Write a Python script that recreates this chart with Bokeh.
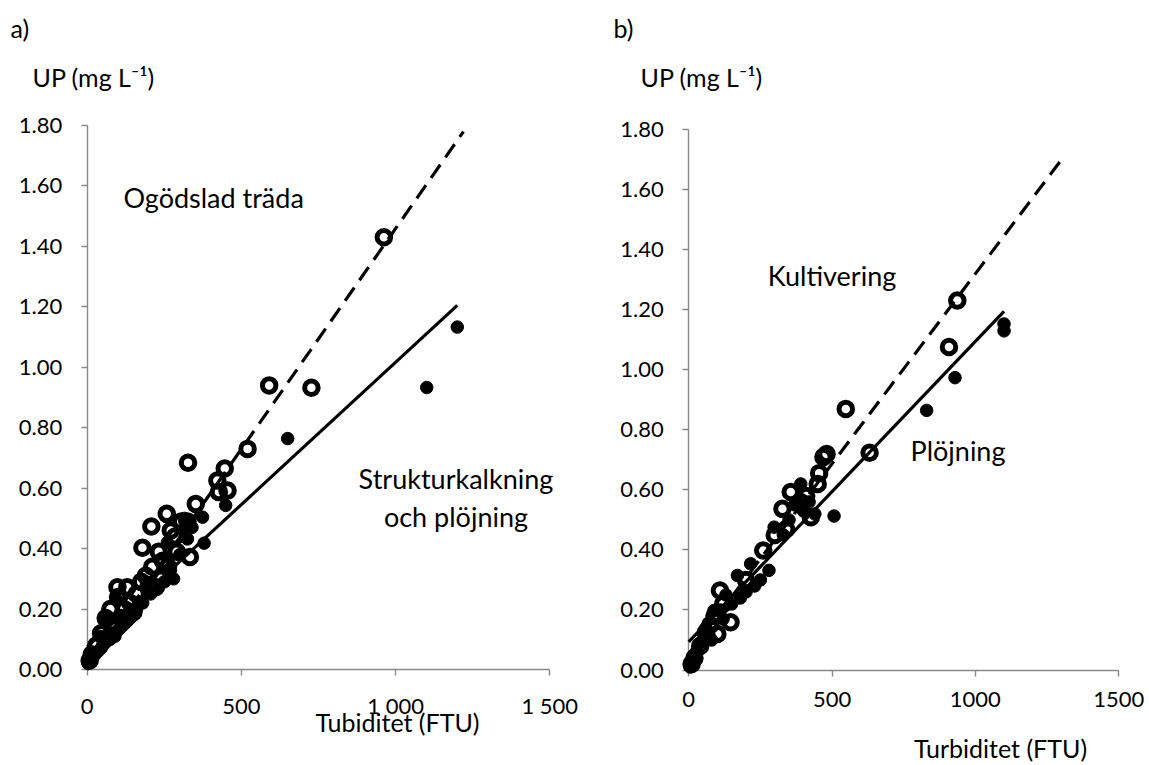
from bokeh.plotting import figure
from bokeh.models import Range1d, FixedTicker, NumeralTickFormatter, Label, LinearAxis
from bokeh.embed import file_html
from bokeh.resources import INLINE

# ---------------- data ----------------
# Panel a) - open circles: Ogödslad träda (dashed trend), filled: Strukturkalkning och plöjning (solid trend)
a_open_x = [962, 590, 727, 520, 327, 446, 422, 455, 427, 352, 258, 208, 271, 305, 325, 179, 333, 232,
            290, 211, 262, 98, 130, 222, 175, 160, 100, 75, 120, 60, 90, 45, 30, 15, 140, 190, 245, 200,
            110, 150, 8, 285, 240]
a_open_y = [1.43, 0.94, 0.932, 0.73, 0.684, 0.665, 0.625, 0.592, 0.587, 0.548, 0.515, 0.473, 0.46, 0.49,
            0.49, 0.403, 0.372, 0.39, 0.39, 0.34, 0.34, 0.272, 0.272, 0.272, 0.29, 0.25, 0.24, 0.20, 0.20,
            0.17, 0.15, 0.12, 0.08, 0.05, 0.22, 0.31, 0.36, 0.28, 0.17, 0.19, 0.03, 0.44, 0.30]
a_fill_x = [1200, 1101, 650, 379, 449, 374, 325, 310, 340, 280, 250, 206, 230, 180, 160, 140, 120, 100,
            90, 75, 60, 58, 45, 35, 25, 15, 8, 3, 110, 80, 65, 50, 40, 20, 130, 95, 150, 270, 300, 315, 260]
a_fill_y = [1.133, 0.933, 0.764, 0.418, 0.543, 0.504, 0.432, 0.46, 0.47, 0.30, 0.29, 0.25, 0.27, 0.22,
            0.20, 0.17, 0.15, 0.13, 0.11, 0.10, 0.09, 0.173, 0.07, 0.06, 0.05, 0.04, 0.03, 0.02, 0.14,
            0.12, 0.10, 0.08, 0.11, 0.05, 0.16, 0.23, 0.18, 0.33, 0.38, 0.50, 0.42]
a_solid_x = [0, 1200]
a_solid_y = [0.075, 1.205]
a_dash_x = [0, 1220]
a_dash_y = [0.0, 1.78]

# Panel b) - open circles: Kultivering (dashed trend), filled: Plöjning (solid trend)
b_open_x = [937, 908, 548, 631, 481, 470, 455, 450, 356, 327, 426, 390, 410, 260, 109, 146, 120, 90,
            60, 40, 20, 200, 300, 340, 100, 75, 10]
b_open_y = [1.231, 1.076, 0.87, 0.724, 0.72, 0.71, 0.656, 0.62, 0.593, 0.537, 0.509, 0.56, 0.58, 0.398,
            0.265, 0.159, 0.22, 0.18, 0.12, 0.08, 0.04, 0.30, 0.45, 0.47, 0.12, 0.15, 0.02]
b_fill_x = [1100, 1100, 929, 830, 507, 391, 280, 170, 216, 298, 370, 330, 350, 400, 420, 440, 250, 200,
            150, 130, 110, 88, 70, 53, 30, 15, 10, 5, 60, 80, 40, 20, 120, 180, 230]
b_fill_y = [1.153, 1.13, 0.974, 0.865, 0.513, 0.62, 0.332, 0.315, 0.354, 0.476, 0.55, 0.45, 0.50, 0.53,
            0.56, 0.52, 0.30, 0.26, 0.22, 0.25, 0.20, 0.198, 0.12, 0.13, 0.06, 0.03, 0.02, 0.01, 0.14,
            0.10, 0.09, 0.05, 0.17, 0.24, 0.28]
b_solid_x = [0, 1100]
b_solid_y = [0.094, 1.195]
b_dash_x = [0, 1300]
b_dash_y = [0.054, 1.70]

y_ticks = [0.0, 0.2, 0.4, 0.6, 0.8, 1.0, 1.2, 1.4, 1.6, 1.8]
x_ticks = [0, 500, 1000, 1500]
a_x_labels = {0: "0", 500: "500", 1000: "1 000", 1500: "1 500"}
b_x_labels = {0: "0", 500: "500", 1000: "1000", 1500: "1500"}

# ---------------- layout (page pixels) ----------------
W, H = 1149, 765
PAGE_L, PAGE_T = 0, 0
# pixel position of x=0 and pixels per unit, pixel of y=0 and pixels per unit
A_X0, A_KX, A_Y0, A_KY = 86.7, 462.6 / 1500, 669.0, 544.0 / 1.8
B_X0, B_KX, B_Y0, B_KY = 688.2, 430.0 / 1500, 669.5, 540.2 / 1.8


def xr(x0, kx):
    return Range1d((PAGE_L - x0) / kx, (PAGE_L + W - x0) / kx)


def yr(y0, ky):
    return Range1d((y0 - (PAGE_T + H)) / ky, (y0 - PAGE_T) / ky)


FONT = "Lato"
TICK_FS = "22px"
TITLE_FS = "25px"
NOTE_FS = "27px"
AXIS_COLOR = "#898989"

p = figure(width=W, height=H, x_range=xr(A_X0, A_KX), y_range=yr(A_Y0, A_KY),
           x_axis_location=None, y_axis_location=None, title=None,
           output_backend="svg", toolbar_location=None)
p.extra_x_ranges = {"bx": xr(B_X0, B_KX)}
p.extra_y_ranges = {"by": yr(B_Y0, B_KY)}
p.min_border_left = 0
p.min_border_right = 0
p.min_border_top = 0
p.min_border_bottom = 0
p.outline_line_color = None
p.background_fill_color = "white"
p.border_fill_color = "white"
p.grid.visible = False


def style_axis(ax):
    ax.fixed_location = 0
    ax.level = "underlay"
    ax.axis_line_color = AXIS_COLOR
    ax.axis_line_width = 1.4
    ax.major_tick_line_color = AXIS_COLOR
    ax.major_tick_line_width = 1.4
    ax.major_tick_out = 6
    ax.major_tick_in = 0
    ax.minor_tick_line_color = None
    ax.major_label_text_font = FONT
    ax.major_label_text_font_size = TICK_FS
    ax.major_label_text_color = "black"


def add_panel(rx, ry, open_x, open_y, fill_x, fill_y, solid_x, solid_y, dash_x, dash_y, x_labels, texts):
    kw = {} if rx is None else dict(x_range_name=rx, y_range_name=ry)
    xa = LinearAxis(ticker=FixedTicker(ticks=x_ticks), major_label_overrides=x_labels,
                    bounds=(0, 1500), major_label_standoff=16, **kw)
    style_axis(xa)
    p.add_layout(xa, "below")
    ya = LinearAxis(ticker=FixedTicker(ticks=y_ticks), formatter=NumeralTickFormatter(format="0.00"),
                    bounds=(0, 1.8), major_label_standoff=19, **kw)
    style_axis(ya)
    p.add_layout(ya, "left")

    p.scatter(fill_x, fill_y, size=12.5, marker="circle", fill_color="black", line_color="black", **kw)
    p.scatter(open_x, open_y, size=13.5, marker="circle", fill_color=None, line_color="black",
              line_width=5, **kw)
    p.line(solid_x, solid_y, line_color="black", line_width=3.2, **kw)
    p.line(dash_x, dash_y, line_color="black", line_width=3.2, line_dash="16 9", **kw)

    for (t, x, y, align, fs) in texts:
        p.add_layout(Label(x=x, y=y, text=t, text_font=FONT, text_font_size=fs,
                           text_align=align, text_baseline="middle", text_color="black", **kw))


add_panel(None, None, a_open_x, a_open_y, a_fill_x, a_fill_y, a_solid_x, a_solid_y, a_dash_x, a_dash_y,
          a_x_labels,
          [("a)", -248.7, 2.1226, "left", TITLE_FS),
           ("UP (mg L\u207b\u00b9)", -177.4, 1.9605, "left", TITLE_FS),
           ("Ogödslad träda", 117.7, 1.5618, "left", NOTE_FS),
           ("Strukturkalkning", 1195.8, 0.632, "center", NOTE_FS),
           ("och plöjning", 1195.8, 0.5063, "center", NOTE_FS),
           ("Tubiditet (FTU)", 1006, -0.1750, "center", TITLE_FS)])

add_panel("bx", "by", b_open_x, b_open_y, b_fill_x, b_fill_y, b_solid_x, b_solid_y, b_dash_x, b_dash_y,
          b_x_labels,
          [("b)", -262.3, 2.1392, "left", TITLE_FS),
           ("UP (mg L\u207b\u00b9)", -168.1, 1.976, "left", TITLE_FS),
           ("Kultivering", 499.9, 1.3145, "center", NOTE_FS),
           ("Plöjning", 939.4, 0.7314, "center", NOTE_FS),
           ("Turbiditet (FTU)", 1087.6, -0.2615, "center", TITLE_FS)])

open("out.html", "w").write(file_html(p, INLINE))
